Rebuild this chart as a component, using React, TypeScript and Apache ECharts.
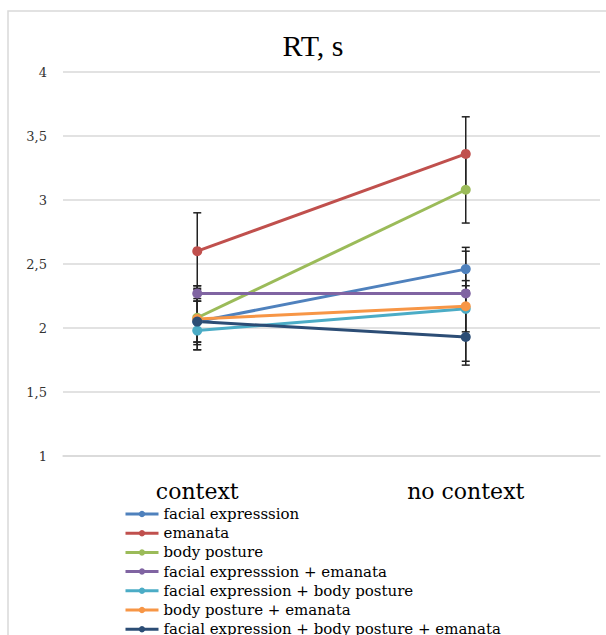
import React, { useEffect, useRef } from "react";
import * as echarts from "echarts";

const categories = ["context", "no context"];
const seriesNames = [
  "facial expresssion",
  "emanata",
  "body posture",
  "facial expresssion + emanata",
  "facial expression + body posture",
  "body posture + emanata",
  "facial expression + body posture + emanata",
];
const facialExpression = [2.05, 2.46];
const emanata = [2.6, 3.36];
const bodyPosture = [2.08, 3.08];
const facialEmanata = [2.27, 2.27];
const facialBody = [1.98, 2.15];
const bodyEmanata = [2.07, 2.17];
const facialBodyEmanata = [2.05, 1.93];

const errFacialExpression = [0.16, 0.17];
const errEmanata = [0.3, 0.29];
const errBodyPosture = [0.25, 0.26];
const errFacialEmanata = [0.06, 0.1];
const errFacialBody = [0.09, 0.18];
const errBodyEmanata = [0.24, 0.43];
const errFacialBodyEmanata = [0.18, 0.22];

const yTicks = { min: 1, max: 4, interval: 0.5 };

const colors = ["#4F81BD", "#C0504D", "#9BBB59", "#8064A2", "#4BACC6", "#F79646", "#2C4D75"];

const values = [facialExpression, emanata, bodyPosture, facialEmanata, facialBody, bodyEmanata, facialBodyEmanata];
const errors = [errFacialExpression, errEmanata, errBodyPosture, errFacialEmanata, errFacialBody, errBodyEmanata, errFacialBodyEmanata];

export default function App() {
  const ref = useRef<HTMLDivElement>(null);
  useEffect(() => {
    if (!ref.current) return;
    const chart = echarts.init(ref.current, undefined, { renderer: "svg" });
    const errData: number[][] = [];
    values.forEach((vals, s) => {
      vals.forEach((v, i) => {
        errData.push([i, v - errors[s][i], v + errors[s][i]]);
      });
    });
    const lineSeries = seriesNames.map((name, s) => ({
      name,
      type: "line",
      data: values[s],
      symbol: "circle",
      symbolSize: 10,
      z: 3,
      itemStyle: { color: colors[s] },
      lineStyle: { color: colors[s], width: 3 },
    }));
    chart.setOption({
      animation: false,
      backgroundColor: "#fff",
      title: {
        text: "RT, s",
        left: 313,
        textAlign: "center",
        top: 30,
        padding: 0,
        textStyle: { fontFamily: "Liberation Serif", fontSize: 30, fontWeight: "normal", color: "#000" },
      },
      graphic: [
        {
          type: "rect",
          shape: { x: 8, y: 11, width: 620, height: 650 },
          style: { fill: "none", stroke: "#d9d9d9", lineWidth: 1.5 },
          silent: true,
        },
      ],
      grid: { left: 63, right: 6, top: 72, bottom: 179 },
      legend: {
        orient: "vertical",
        left: 124,
        top: 504.5,
        height: 150,
        padding: 0,
        itemWidth: 33,
        itemHeight: 8,
        itemGap: 0.2,
        data: seriesNames,
        lineStyle: { width: 3 },
        textStyle: { fontFamily: "DejaVu Serif", fontSize: 15, color: "#000", lineHeight: 19 },
      },
      xAxis: {
        type: "category",
        data: categories,
        boundaryGap: true,
        axisLine: { show: true, lineStyle: { color: "#d9d9d9", width: 1.5 } },
        axisTick: { show: false },
        axisLabel: { margin: 24, fontFamily: "DejaVu Serif", fontSize: 22, color: "#000" },
      },
      yAxis: {
        type: "value",
        min: yTicks.min,
        max: yTicks.max,
        interval: yTicks.interval,
        axisLine: { show: false },
        axisTick: { show: false },
        splitLine: { lineStyle: { color: "#d9d9d9", width: 1.5 } },
        axisLabel: {
          margin: 16,
          fontFamily: "DejaVu Serif",
          fontSize: 13,
          color: "#333",
          formatter: (v: number) => String(v).replace(".", ","),
        },
      },
      series: [
        ...lineSeries,
        {
          name: "errors",
          type: "custom",
          z: 2,
          data: errData,
          renderItem: (params: any, api: any) => {
            const x = api.value(0);
            const lo = api.coord([x, api.value(1)]);
            const hi = api.coord([x, api.value(2)]);
            const hw = 4;
            const style = { stroke: "#222", lineWidth: 1.5 };
            return {
              type: "group",
              children: [
                { type: "line", shape: { x1: hi[0], y1: hi[1], x2: lo[0], y2: lo[1] }, style },
                { type: "line", shape: { x1: hi[0] - hw, y1: hi[1], x2: hi[0] + hw, y2: hi[1] }, style },
                { type: "line", shape: { x1: lo[0] - hw, y1: lo[1], x2: lo[0] + hw, y2: lo[1] }, style },
              ],
            };
          },
        },
      ],
    });
    return () => chart.dispose();
  }, []);
  return (
    <div
      ref={ref}
      style={{ position: "absolute", left: 0, top: 0, width: 606, height: 635 }}
    />
  );
}
